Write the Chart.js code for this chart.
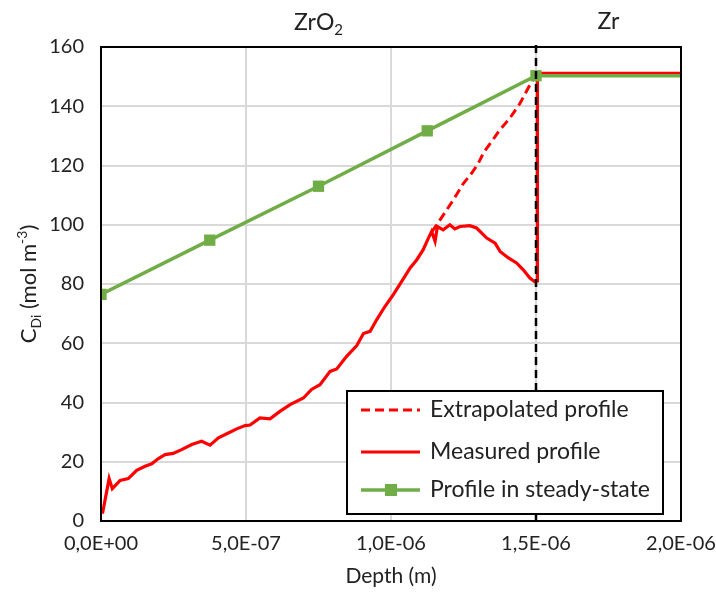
<!DOCTYPE html>
<html>
<head>
<meta charset="utf-8">
<script src="https://cdn.jsdelivr.net/npm/chart.js@4.4.0/dist/chart.umd.min.js"></script>
<style>
  html, body { margin: 0; padding: 0; background: #fff; }
</style>
</head>
<body>
<canvas id="chart" width="716" height="596"></canvas>
<script>
// Depth in units of 1e-7 m
const measuredDepth = [0.05, 0.28, 0.39, 0.66, 0.94, 1.23, 1.52, 1.75, 1.98, 2.21, 2.49, 2.78, 3.13, 3.47, 3.76,
    4.05, 4.39, 4.68, 4.97, 5.14, 5.48, 5.83, 6.17, 6.52, 6.98, 7.26, 7.55, 7.9, 8.13, 8.47, 8.82, 9.05, 9.28,
    9.51, 9.79, 10.08, 10.37, 10.66, 10.89, 11.11, 11.29, 11.4, 11.52, 11.6, 11.8, 12.03, 12.2, 12.38, 12.72,
    12.95, 13.13, 13.3, 13.59, 13.76, 14.05, 14.33, 14.56, 14.79, 14.95, 15.05, 15.05, 20];
const measuredConc = [2.5, 14.3, 10.9, 13.7, 14.3, 17.1, 18.5, 19.3, 21.1, 22.4, 22.8, 24.1, 25.8, 26.9, 25.6,
    28.1, 29.7, 31.1, 32.2, 32.4, 34.8, 34.5, 37, 39.3, 41.5, 44.4, 46, 50.5, 51.3, 55.6, 59.2, 63.3, 64,
    68, 72.4, 76.4, 80.9, 85.4, 88.2, 91.6, 95.5, 97.7, 94.4, 99.4, 98.3, 100, 98.6, 99.4, 99.7,
    98.9, 97.2, 95.5, 93.8, 91, 88.8, 87.1, 84.8, 82, 80.8, 81, 151.1, 151.1];

const extrapDepth = [11.4, 11.75, 12.15, 12.5, 12.75, 13.0, 13.2, 13.5, 13.75, 14.1, 14.45, 14.75, 15.0];
const extrapConc = [97.5, 102.5, 108.4, 114, 117, 120.5, 124.5, 128.5, 132, 136, 141, 146.5, 150.5];

const steadyDepth = [0, 3.75, 7.5, 11.25, 15, 20];
const steadyConc = [76.5, 94.8, 113, 131.7, 150.3, 150.3];
const steadyMarkers = [true, true, true, true, true, false];

const interfaceDepth = [15, 15];
const interfaceConc = [0, 162];

const xTickLabels = ['0,0E+00', '5,0E-07', '1,0E-06', '1,5E-06', '2,0E-06'];

const FONT = 'Lato';
const TEXT = '#222';
const RED = '#ff0000';
const GREEN = '#70ad47';

function toPoints(xs, ys) {
    return xs.map((v, i) => ({ x: v * 1e-7, y: ys[i] }));
}

// frame, region labels, y title and legend box
const overlay = {
    id: 'overlay',
    afterDraw(chart) {
        const { ctx, chartArea: a, scales } = chart;
        const xs = scales.x;
        ctx.save();

        ctx.strokeStyle = '#000';
        ctx.lineWidth = 2;
        ctx.setLineDash([]);
        ctx.strokeRect(a.left, a.top, a.right - a.left, a.bottom - a.top);

        // ZrO2 / Zr labels
        ctx.fillStyle = TEXT;
        ctx.textBaseline = 'alphabetic';
        ctx.textAlign = 'left';
        let cx = xs.getPixelForValue(0.75e-6);
        ctx.font = `23px ${FONT}`;
        let w1 = ctx.measureText('ZrO').width;
        ctx.font = `15px ${FONT}`;
        let w2 = ctx.measureText('2').width;
        let sx = cx - (w1 + w2) / 2;
        ctx.font = `23px ${FONT}`;
        ctx.fillText('ZrO', sx, 30);
        ctx.font = `15px ${FONT}`;
        ctx.fillText('2', sx + w1, 35);
        ctx.font = `23px ${FONT}`;
        ctx.textAlign = 'center';
        ctx.fillText('Zr', xs.getPixelForValue(1.75e-6), 29);

        // y title with sub/superscript
        const parts = [
            { t: 'C', s: 22, dy: 0 },
            { t: 'Di', s: 14, dy: 5 },
            { t: ' (mol m', s: 22, dy: 0 },
            { t: '-3', s: 14, dy: -9 },
            { t: ')', s: 22, dy: 0 }
        ];
        ctx.save();
        ctx.translate(28, (a.top + a.bottom) / 2);
        ctx.rotate(-Math.PI / 2);
        ctx.textAlign = 'left';
        let total = 0;
        for (let p of parts) {
            ctx.font = `${p.s}px ${FONT}`;
            p.w = ctx.measureText(p.t).width;
            total += p.w;
        }
        let px = -total / 2;
        for (let p of parts) {
            ctx.font = `${p.s}px ${FONT}`;
            ctx.fillText(p.t, px, 8 + p.dy);
            px += p.w;
        }
        ctx.restore();

        // legend
        const lx = a.left + 246, ly = a.top + 344, lw = 316, lh = 123;
        ctx.fillStyle = '#fff';
        ctx.fillRect(lx, ly, lw, lh);
        ctx.strokeStyle = '#000';
        ctx.lineWidth = 2;
        ctx.strokeRect(lx, ly, lw, lh);
        const items = chart.data.datasets.filter(d => d.label);
        const rowY = [ly + 19, ly + 61, ly + 99];
        items.forEach((d, i) => {
            const yy = rowY[i];
            ctx.strokeStyle = d.borderColor;
            ctx.lineWidth = d.borderWidth;
            ctx.setLineDash(d.borderDash || []);
            ctx.beginPath();
            ctx.moveTo(lx + 14, yy);
            ctx.lineTo(lx + 73, yy);
            ctx.stroke();
            ctx.setLineDash([]);
            if (d.pointStyle === 'rect') {
                ctx.fillStyle = d.pointBackgroundColor;
                ctx.fillRect(lx + 38, yy - 6, 12, 12);
            }
            ctx.fillStyle = TEXT;
            ctx.font = `23px ${FONT}`;
            ctx.textAlign = 'left';
            ctx.textBaseline = 'middle';
            ctx.fillText(d.label, lx + 83, yy);
        });
        ctx.restore();
    }
};

new Chart(document.getElementById('chart'), {
    type: 'scatter',
    data: {
        datasets: [
            {
                label: 'Extrapolated profile',
                data: toPoints(extrapDepth, extrapConc),
                showLine: true,
                borderColor: RED,
                borderWidth: 3,
                borderDash: [9, 5],
                pointRadius: 0,
                order: 3
            },
            {
                label: 'Measured profile',
                data: toPoints(measuredDepth, measuredConc),
                showLine: true,
                borderColor: RED,
                borderWidth: 3.2,
                pointRadius: 0,
                order: 2
            },
            {
                label: 'Profile in steady-state',
                data: toPoints(steadyDepth, steadyConc),
                showLine: true,
                borderColor: GREEN,
                borderWidth: 3.5,
                pointStyle: 'rect',
                pointRadius: steadyMarkers.map(m => m ? 8 : 0),
                pointBackgroundColor: GREEN,
                pointBorderWidth: 0,
                order: 1
            },
            {
                data: toPoints(interfaceDepth, interfaceConc),
                showLine: true,
                borderColor: '#000',
                borderWidth: 2.5,
                borderDash: [8, 5],
                pointRadius: 0,
                clip: false,
                order: 0
            }
        ]
    },
    options: {
        responsive: false,
        animation: false,
        layout: { padding: { top: 47, right: 35, left: 0, bottom: 0 } },
        plugins: { legend: { display: false }, tooltip: { enabled: false } },
        scales: {
            x: {
                type: 'linear',
                min: 0,
                max: 2e-6,
                afterFit: s => { s.height = 75; s.paddingLeft = 0; s.paddingRight = 0; },
                afterBuildTicks: s => {
                    s.ticks = xTickLabels.map((_, i) => ({ value: i * 5e-7 }));
                },
                ticks: {
                    padding: 11,
                    color: TEXT,
                    font: { family: FONT, size: 20 },
                    maxRotation: 0,
                    callback: (v, i) => xTickLabels[i]
                },
                grid: { color: '#d9d9d9', lineWidth: 2, drawTicks: false },
                border: { color: '#000', width: 2 },
                title: {
                    display: true,
                    text: 'Depth (m)',
                    color: TEXT,
                    font: { family: FONT, size: 21 },
                    padding: { top: 0, bottom: 7 }
                }
            },
            y: {
                min: 0,
                max: 160,
                afterFit: s => { s.width = 101; },
                ticks: {
                    stepSize: 20,
                    padding: 17,
                    color: TEXT,
                    font: { family: FONT, size: 20 }
                },
                grid: { color: '#d9d9d9', lineWidth: 2, drawTicks: false },
                border: { color: '#000', width: 2 }
            }
        }
    },
    plugins: [overlay]
});
</script>
</body>
</html>
